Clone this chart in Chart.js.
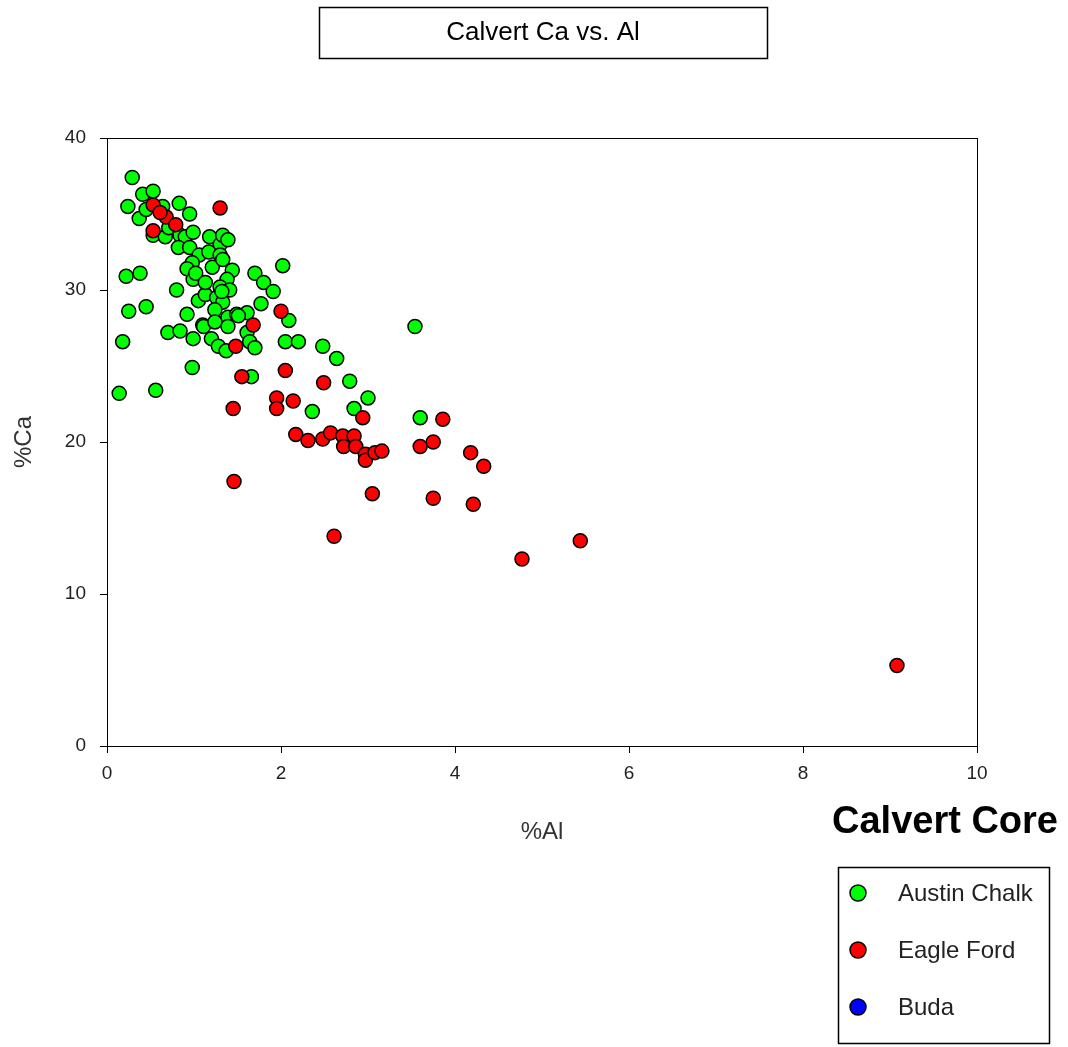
<!DOCTYPE html>
<html>
<head>
<meta charset="utf-8">
<script src="https://cdn.jsdelivr.net/npm/chart.js@4.4.1/dist/chart.umd.min.js"></script>
<style>
    body { margin: 0; background: #fff; }
    canvas { display: block; }
</style>
</head>
<body>
<canvas id="caChart" width="1068" height="1047"></canvas>
<script>
const chartTitle = 'Calvert Ca vs. Al';
const coreName = 'Calvert Core';
const xTitle = '%Al';
const yTitle = '%Ca';
const seriesNames = ['Austin Chalk', 'Eagle Ford', 'Buda'];
const seriesColors = ['#00ff00', '#ff0000', '#0000ff'];

const austinAl = [0.29, 0.41, 0.53, 0.24, 0.37, 0.45, 0.64, 0.83, 0.95, 0.53, 0.67, 0.71, 0.84, 0.90, 0.99,
    0.82, 0.95, 1.06, 1.18, 1.30, 1.33, 1.39, 1.17, 1.30, 0.98, 0.92, 1.21, 1.33, 1.44, 0.99, 0.80, 1.38,
    1.30, 1.70, 1.80, 1.91, 2.02, 1.77, 1.05, 1.13, 1.26, 1.33, 1.24, 1.39, 1.49, 1.61, 1.10, 2.09, 2.05,
    2.20, 2.48, 2.64, 2.79, 2.36, 2.84, 3.00, 3.54, 3.60, 0.22, 0.38, 0.25, 0.45, 0.18, 0.14, 0.56, 0.70,
    0.84, 0.92, 0.99, 1.20, 1.28, 1.37, 1.39, 1.51, 1.61, 1.64, 1.70, 0.98, 1.66, 1.11, 1.02, 1.13, 1.41,
    1.24, 1.32];
const austinCa = [37.4, 36.3, 36.5, 35.5, 34.7, 35.3, 35.5, 35.7, 35.0, 33.6, 33.5, 34.1, 33.6, 33.5, 33.8,
    32.8, 32.8, 32.3, 33.5, 33.0, 33.6, 33.3, 32.5, 32.3, 31.8, 31.4, 31.5, 32.0, 31.3, 30.7, 30.0, 30.7,
    30.2, 31.1, 30.5, 29.9, 31.6, 29.1, 29.3, 29.7, 29.5, 29.2, 28.7, 28.2, 28.4, 28.5, 27.7, 28.0, 26.6,
    26.6, 26.3, 25.5, 24.0, 22.0, 22.2, 22.9, 27.6, 21.6, 30.9, 31.1, 28.6, 28.9, 26.6, 23.2, 23.4, 27.2,
    27.3, 28.4, 26.8, 26.8, 26.3, 26.0, 27.6, 28.3, 27.2, 26.6, 26.2, 24.9, 24.3, 27.6, 31.1, 30.5, 30.0,
    27.9, 29.9];

const eagleAl = [0.53, 0.68, 0.79, 0.53, 0.61, 1.30, 1.68, 2.00, 1.48, 1.55, 2.05, 2.49, 1.45, 1.95, 1.95,
    2.14, 2.17, 2.31, 2.48, 2.57, 2.71, 2.84, 2.72, 2.86, 2.97, 2.97, 3.08, 3.16, 2.94, 3.86, 3.60, 3.75,
    4.18, 4.33, 1.46, 3.05, 3.75, 4.21, 2.61, 4.77, 5.44, 9.08];
const eagleCa = [35.6, 34.8, 34.3, 33.9, 35.1, 35.4, 27.7, 28.6, 26.3, 24.3, 24.7, 23.9, 22.2, 22.9, 22.2,
    22.7, 20.5, 20.1, 20.2, 20.6, 20.4, 20.4, 19.7, 19.7, 19.2, 18.8, 19.3, 19.4, 21.6, 21.5, 19.7, 20.0,
    19.3, 18.4, 17.4, 16.6, 16.3, 15.9, 13.8, 12.3, 13.5, 5.3];

const budaAl = [];
const budaCa = [];

const xTicks = [0, 2, 4, 6, 8, 10];
const yTicks = [0, 10, 20, 30, 40];

function toPoints(xs, ys) {
    return xs.map((x, i) => ({ x: x, y: ys[i] }));
}

const seriesData = [
    toPoints(austinAl, austinCa),
    toPoints(eagleAl, eagleCa),
    toPoints(budaAl, budaCa)
];
// red sits on top of green in the original
const drawOrder = [2, 1, 0];

const font = '"Liberation Sans", Arial, sans-serif';

// frame, title box, axis titles, core name and legend box
const decorations = {
    id: 'decorations',
    afterDraw(chart) {
        const c = chart.ctx;
        const a = chart.chartArea;
        c.save();
        c.strokeStyle = '#000';
        c.lineWidth = 1;
        c.strokeRect(a.left + 0.5, a.top + 0.5, a.right - a.left, a.bottom - a.top);

        // title box
        c.lineWidth = 1.5;
        c.strokeRect(319.5, 7.5, 448, 51);
        c.fillStyle = '#000';
        c.font = '26px ' + font;
        c.textAlign = 'center';
        c.textBaseline = 'middle';
        c.fillText(chartTitle, 543, 33);

        // axis titles
        c.fillStyle = '#333';
        c.font = '24px ' + font;
        c.fillText(xTitle, (a.left + a.right) / 2, 832);
        c.save();
        c.translate(24, (a.top + a.bottom) / 2);
        c.rotate(-Math.PI / 2);
        c.fillText(yTitle, 0, 0);
        c.restore();

        // core name
        c.fillStyle = '#000';
        c.font = 'bold 38px ' + font;
        c.textAlign = 'left';
        c.fillText(coreName, 832, 823);

        // legend
        c.lineWidth = 1.5;
        c.strokeRect(838.5, 867.5, 211, 176);
        c.font = '24px ' + font;
        seriesNames.forEach((name, i) => {
            const y = 893 + i * 57;
            c.beginPath();
            c.arc(858, y, 8, 0, Math.PI * 2);
            c.fillStyle = seriesColors[i];
            c.fill();
            c.lineWidth = 1.5;
            c.strokeStyle = '#000';
            c.stroke();
            c.fillStyle = '#222';
            c.fillText(name, 898, y + 1);
        });
        c.restore();
    }
};

const ctx = document.getElementById('caChart').getContext('2d');
const caChart = new Chart(ctx, {
    type: 'scatter',
    data: {
        datasets: seriesNames.map((name, i) => ({
            label: name,
            data: seriesData[i],
            order: drawOrder[i],
            backgroundColor: seriesColors[i],
            borderColor: '#000',
            borderWidth: 1.5,
            pointRadius: 7,
            pointHoverRadius: 7
        }))
    },
    options: {
        responsive: false,
        animation: false,
        layout: {
            padding: { left: 0, top: 138, right: 91, bottom: 241 }
        },
        plugins: {
            legend: { display: false },
            tooltip: { enabled: false }
        },
        scales: {
            x: {
                type: 'linear',
                min: 0,
                max: 10,
                afterFit(scale) { scale.height = 60; },
                afterBuildTicks(scale) { scale.ticks = xTicks.map(v => ({ value: v })); },
                grid: { drawOnChartArea: false, color: '#000', tickLength: 7 },
                border: { color: '#000' },
                ticks: { color: '#222', font: { size: 19, family: font }, padding: 9 }
            },
            y: {
                type: 'linear',
                min: 0,
                max: 40,
                afterFit(scale) { scale.width = 107; },
                afterBuildTicks(scale) { scale.ticks = yTicks.map(v => ({ value: v })); },
                grid: { drawOnChartArea: false, color: '#000', tickLength: 7 },
                border: { color: '#000' },
                ticks: { color: '#222', font: { size: 19, family: font }, padding: 14 }
            }
        }
    },
    plugins: [decorations]
});
</script>
</body>
</html>
